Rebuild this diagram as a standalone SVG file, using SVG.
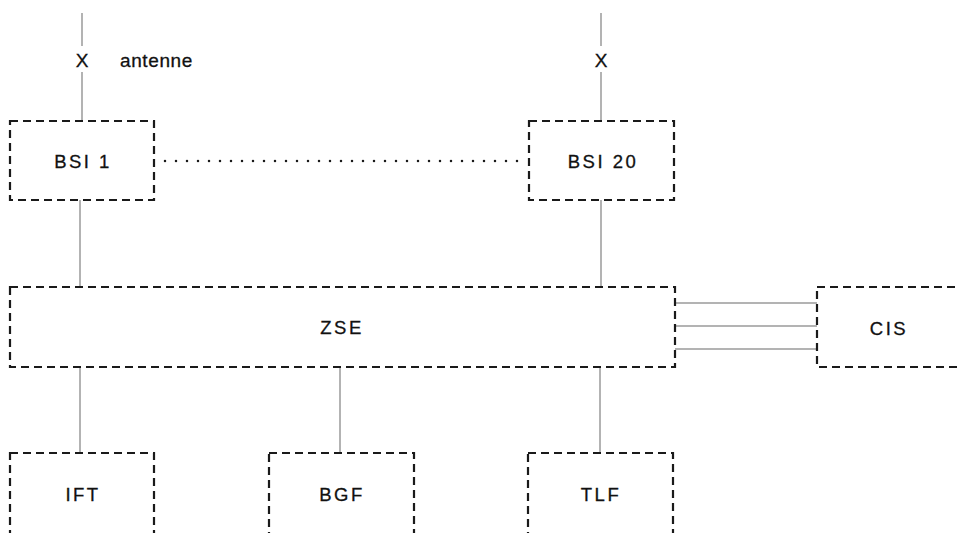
<svg xmlns="http://www.w3.org/2000/svg" width="958" height="533" viewBox="0 0 958 533">
<style>
.box{fill:none;stroke:#1a1a1a;stroke-width:2.2;stroke-dasharray:8 5}
.con{stroke:#9a9a9a;stroke-width:1.5;fill:none}
.lbl{font-family:"Liberation Sans",Arial,sans-serif;font-size:18.5px;fill:#111;text-anchor:middle;letter-spacing:2.5px;stroke:#111;stroke-width:0.3}
.dot{stroke:#1a1a1a;stroke-width:2.5;stroke-dasharray:0 11;stroke-linecap:round}
</style>
<rect width="958" height="533" fill="#fff"/>
<g id="connectors">
<line class="con" x1="82" y1="13" x2="82" y2="46"/>
<line class="con" x1="82" y1="72" x2="82" y2="121"/>
<line class="con" x1="601" y1="13" x2="601" y2="46"/>
<line class="con" x1="601" y1="72" x2="601" y2="121"/>
<line class="con" x1="80" y1="200" x2="80" y2="287"/>
<line class="con" x1="601" y1="200" x2="601" y2="287"/>
<line class="con" x1="80" y1="367" x2="80" y2="453"/>
<line class="con" x1="340" y1="367" x2="340" y2="453"/>
<line class="con" x1="600" y1="367" x2="600" y2="453"/>
<line class="con" x1="675" y1="303" x2="817" y2="303"/>
<line class="con" x1="675" y1="326" x2="817" y2="326"/>
<line class="con" x1="675" y1="349" x2="817" y2="349"/>
<line class="dot" x1="165" y1="161" x2="525" y2="161"/>
</g>
<g id="antenna1">
<text x="82" y="67" class="lbl" style="font-size:19px;letter-spacing:0">X</text>
<text x="120" y="67" style="font-family:'Liberation Sans',Arial,sans-serif;font-size:19px;fill:#111;stroke:#111;stroke-width:0.3;letter-spacing:0.6px">antenne</text>
</g>
<g id="antenna20">
<text x="601" y="67" class="lbl" style="font-size:19px;letter-spacing:0">X</text>
</g>
<g id="bsi1">
<rect class="box" x="10" y="121" width="144" height="79"/>
<text x="83" y="168" class="lbl">BSI 1</text>
</g>
<g id="bsi20">
<rect class="box" x="529" y="121" width="145" height="79"/>
<text x="603" y="168" class="lbl">BSI 20</text>
</g>
<g id="zse">
<rect class="box" x="10" y="287" width="665" height="80"/>
<text x="342" y="334" class="lbl">ZSE</text>
</g>
<g id="cis">
<rect class="box" x="817" y="287" width="160" height="80"/>
<text x="889" y="335" class="lbl">CIS</text>
</g>
<g id="ift">
<rect class="box" x="10" y="453" width="144" height="100"/>
<text x="83" y="501" class="lbl">IFT</text>
</g>
<g id="bgf">
<rect class="box" x="269" y="453" width="145" height="100"/>
<text x="342" y="501" class="lbl">BGF</text>
</g>
<g id="tlf">
<rect class="box" x="528" y="453" width="145" height="100"/>
<text x="601" y="501" class="lbl">TLF</text>
</g>
</svg>
